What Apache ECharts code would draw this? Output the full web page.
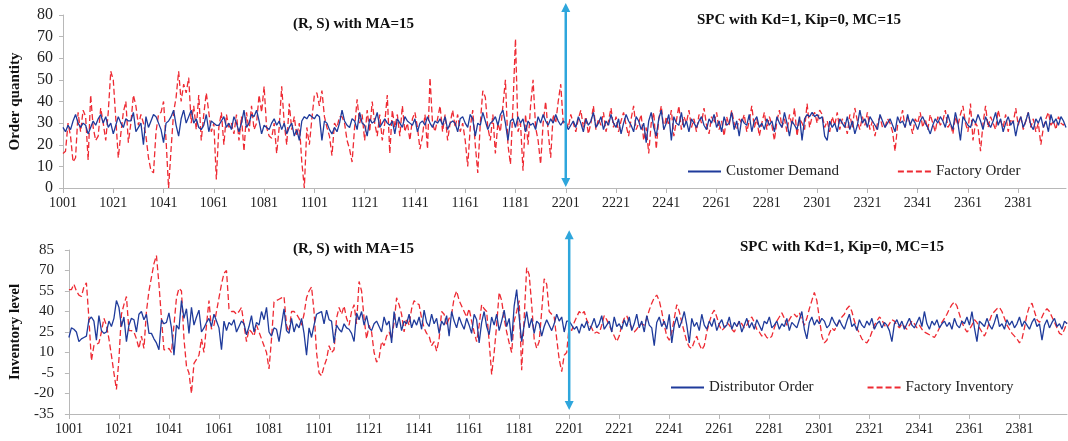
<!DOCTYPE html>
<html>
<head>
<meta charset="utf-8">
<script src="https://cdn.jsdelivr.net/npm/echarts@6/dist/echarts.min.js"></script>
<style>
  html, body { margin: 0; padding: 0; background: #fff; }
  #chart { width: 1068px; height: 441px; }
</style>
</head>
<body>
<div id="chart"></div>
<script>
// periods: 1001-1200 then 2201-2400
const periods = []
for (let p = 1001; p <= 1200; p++) periods.push(String(p))
for (let p = 2201; p <= 2400; p++) periods.push(String(p))

const orderTicks = [0, 10, 20, 30, 40, 50, 60, 70, 80]
const inventoryTicks = [-35, -20, -5, 10, 25, 40, 55, 70, 85]

// top panel - (R, S) part
const customerDemandA = [
  28, 26, 29, 27, 31, 34, 30, 28, 30, 29, 25, 28, 31, 29, 32, 34, 30, 33, 28, 30,
  25, 29, 33, 30, 28, 32, 31, 31, 35, 26, 28, 30, 20, 33, 28, 31, 34, 33, 30, 27,
  21, 30, 31, 33, 36, 29, 24, 32, 36, 30, 33, 36, 30, 32, 28, 27, 29, 34, 26, 31,
  30, 29, 29, 31, 33, 28, 30, 27, 33, 30, 26, 30, 36, 28, 30, 34, 33, 36, 31, 25,
  29, 28, 27, 30, 32, 29, 31, 27, 30, 25, 28, 30, 24, 27, 22, 31, 33, 32, 34, 33,
  32, 34, 33, 22, 31, 30, 27, 25, 28, 26, 30, 36, 31, 29, 28, 32, 31, 27, 35, 30,
  29, 24, 32, 30, 31, 35, 28, 30, 32, 30, 29, 31, 25, 32, 30, 28, 33, 31, 30, 29,
  32, 26, 30, 31, 29, 33, 30, 28, 31, 30, 32, 29, 33, 27, 30, 31, 30, 26, 32, 33,
  30, 28, 34, 32, 24, 30, 29, 35, 31, 27, 30, 31, 33, 29, 34, 36, 30, 22, 31, 32,
  28, 33, 30, 32, 26, 31, 29, 30, 27, 33, 30, 34, 31, 29, 32, 30, 34, 31, 29, 31
]
const factoryOrderA = [
  16, 17, 30, 24, 12, 14, 35, 26, 36, 33, 13, 43, 28, 22, 24, 37, 30, 22, 35, 54,
  50, 32, 14, 25, 35, 40, 21, 30, 43, 38, 29, 34, 30, 24, 14, 8, 7, 26, 34, 35,
  40, 22, 0, 18, 35, 42, 54, 40, 48, 44, 51, 30, 38, 27, 43, 22, 34, 44, 35, 26,
  30, 4, 28, 35, 20, 34, 28, 30, 25, 34, 22, 33, 17, 35, 26, 38, 27, 30, 43, 35,
  47, 28, 24, 23, 30, 16, 28, 47, 30, 20, 39, 27, 33, 24, 30, 12, 0, 28, 20, 32,
  43, 44, 38, 45, 33, 28, 24, 15, 30, 28, 33, 33, 30, 22, 18, 12, 28, 41, 30, 34,
  22, 36, 26, 40, 30, 24, 34, 22, 30, 43, 16, 36, 28, 34, 24, 38, 26, 30, 22, 32,
  35, 28, 18, 24, 34, 18, 51, 30, 26, 32, 38, 26, 34, 22, 30, 36, 28, 34, 26, 30,
  22, 10, 28, 36, 20, 7, 30, 45, 42, 28, 22, 34, 16, 30, 26, 38, 50, 20, 11, 38,
  69, 26, 30, 8, 34, 20, 38, 50, 28, 22, 11, 30, 40, 26, 14, 34, 30, 40, 48, 30
]
// top panel - SPC part
const customerDemandB = [
  30, 27, 29, 31, 28, 33, 30, 26, 32, 29, 31, 35, 28, 30, 33, 27, 31, 29, 34, 30,
  28, 32, 25, 30, 34, 31, 29, 26, 33, 31, 27, 30, 21, 31, 35, 28, 24, 32, 36, 27,
  30, 34, 22, 33, 30, 29, 35, 28, 31, 26, 32, 30, 28, 31, 33, 29, 27, 32, 30, 34,
  28, 31, 26, 33, 29, 30, 35, 27, 31, 24, 32, 30, 29, 34, 26, 31, 33, 28, 30, 27,
  32, 29, 31, 26, 33, 30, 28, 35, 30, 24, 31, 29, 27, 33, 22, 32, 34, 33, 35, 33,
  34, 32, 33, 24, 22, 31, 28, 30, 26, 32, 30, 28, 33, 27, 31, 25, 29, 36, 30, 32,
  28, 33, 31, 29, 27, 34, 31, 28, 30, 32, 29, 26, 33, 30, 31, 28, 34, 29, 32, 30,
  27, 31, 33, 30, 28, 25, 29, 32, 30, 33, 31, 28, 34, 30, 27, 35, 30, 22, 33, 31,
  29, 28, 32, 30, 34, 31, 27, 33, 30, 28, 31, 35, 29, 32, 26, 30, 33, 29, 31, 24,
  30, 33, 28, 31, 35, 29, 27, 32, 30, 33, 28, 31, 26, 34, 30, 32, 29, 33, 31, 28
]
const factoryOrderB = [
  31, 28, 34, 30, 26, 32, 36, 28, 33, 25, 30, 38, 27, 32, 29, 35, 26, 31, 37, 28,
  33, 26, 31, 35, 29, 24, 32, 38, 27, 30, 34, 22, 28, 16, 30, 35, 18, 32, 38, 27,
  33, 29, 36, 24, 31, 38, 27, 33, 30, 36, 28, 32, 26, 34, 30, 37, 29, 25, 33, 30,
  35, 27, 31, 24, 33, 29, 36, 30, 27, 32, 30, 34, 26, 31, 38, 28, 32, 24, 30, 35,
  27, 33, 29, 22, 31, 36, 28, 32, 26, 34, 29, 37, 24, 32, 30, 27, 39, 28, 33, 35,
  30, 36, 34, 28, 31, 26, 33, 29, 35, 27, 32, 30, 25, 34, 28, 37, 31, 27, 33, 29,
  35, 27, 31, 24, 30, 33, 28, 28, 32, 30, 26, 17, 29, 31, 36, 28, 33, 30, 25, 32,
  30, 35, 28, 32, 27, 34, 30, 26, 33, 29, 31, 36, 28, 30, 25, 33, 29, 34, 38, 30,
  26, 39, 22, 30, 28, 17, 30, 38, 28, 33, 30, 27, 36, 31, 28, 34, 26, 32, 30, 37,
  29, 33, 27, 31, 35, 28, 32, 26, 30, 20, 28, 32, 35, 29, 31, 27, 33, 30, 29, 31
]
// bottom panel - (R, S) part
const distributorOrderA = [
  21, 28, 27, 25, 18, 20, 21, 22, 34, 36, 33, 19, 37, 26, 24, 25, 33, 29, 35, 48,
  43, 29, 36, 18, 30, 35, 34, 25, 38, 40, 34, 38, 24, 24, 20, 17, 12, 34, 31, 32,
  39, 28, 8, 30, 27, 48, 35, 42, 24, 43, 30, 36, 41, 25, 28, 32, 35, 29, 38, 33,
  28, 12, 33, 26, 32, 30, 34, 25, 29, 33, 31, 23, 29, 37, 25, 32, 30, 40, 34, 43,
  25, 22, 28, 27, 18, 30, 42, 26, 24, 35, 25, 31, 28, 35, 24, 8, 28, 21, 30, 38,
  39, 40, 31, 41, 34, 33, 17, 30, 27, 25, 31, 28, 27, 24, 18, 39, 34, 40, 30, 37,
  28, 26, 31, 33, 29, 25, 36, 30, 33, 17, 40, 28, 36, 26, 33, 31, 38, 28, 34, 30,
  36, 27, 41, 32, 29, 38, 31, 35, 24, 33, 30, 37, 22, 40, 33, 28, 36, 31, 27, 35,
  30, 24, 38, 34, 17, 32, 40, 29, 23, 36, 30, 38, 26, 33, 41, 29, 35, 18, 44, 56,
  36, 18, 30, 40, 28, 35, 24, 33, 31, 22, 29, 34, 30, 26, 31, 38, 33, 36, 25, 33
]
const factoryInventoryA = [
  56, 56, 60, 55, 52, 51, 58, 61, 35, 4, 15, 16, 17, 25, 35, 30, 20, 8, -5, -17,
  5, 38, 45, 51, 26, 26, 25, 20, 13, 22, 13, 40, 55, 65, 75, 81, 60, 35, 12, 12,
  13, 10, 30, 50, 57, 55, 20, 0, -5, -20, 2, 5, 8, 20, 10, 30, 48, 27, 30, 40,
  50, 60, 68, 70, 42, 40, 40, 38, 40, 43, 30, 18, 27, 25, 22, 30, 25, 20, 15, 10,
  -2, 20, 47, 48, 49, 50, 51, 30, 25, 40, 40, 38, 35, 30, 38, 50, 55, 58, 40, 10,
  -5, -7, 0, 5, 15, 10, 12, 35, 43, 38, 44, 35, 30, 40, 45, 31, 62, 55, 35, 20,
  30, 25, 10, 3, 6, 18, 15, 22, 25, 20, 32, 50, 45, 38, 25, 35, 30, 42, 48, 46,
  45, 35, 28, 24, 22, 15, 18, 11, 20, 40, 38, 30, 35, 38, 50, 55, 48, 44, 40, 36,
  42, 33, 25, 18, 30, 45, 42, 40, 18, -6, 10, 30, 54, 48, 35, 25, 17, 10, 33, 40,
  48, -3, 35, 72, 67, 45, 20, 13, 18, 40, 64, 60, 40, 38, 36, 20, 5, -4, 8, 10
]
// bottom panel - SPC part
const distributorOrderB = [
  33, 30, 27, 29, 24, 31, 28, 33, 26, 30, 35, 28, 31, 37, 27, 30, 33, 25, 36, 29,
  31, 27, 34, 29, 36, 26, 31, 38, 28, 33, 25, 37, 30, 28, 15, 32, 36, 29, 33, 27,
  38, 17, 30, 36, 28, 33, 40, 30, 17, 35, 29, 32, 26, 38, 30, 27, 33, 29, 35, 26,
  31, 34, 28, 30, 36, 27, 32, 29, 33, 25, 30, 35, 28, 32, 27, 34, 30, 26, 33, 31,
  36, 28, 30, 33, 27, 31, 29, 35, 26, 32, 30, 28, 34, 40, 27, 20, 32, 36, 30, 34,
  31, 35, 33, 28, 30, 36, 32, 29, 34, 30, 27, 33, 38, 29, 31, 26, 34, 30, 28, 33,
  30, 35, 27, 31, 33, 28, 32, 30, 26, 18, 31, 34, 29, 33, 27, 31, 35, 30, 28, 32,
  36, 29, 40, 31, 27, 33, 30, 34, 28, 31, 33, 29, 32, 27, 35, 30, 28, 33, 31, 36,
  30, 40, 28, 18, 33, 31, 29, 35, 30, 27, 32, 38, 29, 31, 27, 34, 30, 33, 28, 31,
  36, 29, 33, 30, 27, 32, 35, 29, 31, 19, 30, 34, 28, 32, 35, 29, 31, 27, 33, 31
]
const factoryInventoryB = [
  30, 26, 32, 36, 40, 38, 40, 34, 30, 28, 24, 25, 24, 30, 37, 34, 30, 26, 22, 18,
  22, 30, 35, 37, 32, 28, 25, 27, 30, 31, 30, 35, 41, 46, 50, 52, 48, 40, 30, 22,
  19, 25, 35, 45, 40, 32, 25, 18, 14, 13, 18, 22, 16, 12, 15, 25, 32, 38, 41, 36,
  30, 26, 28, 32, 30, 27, 25, 29, 33, 31, 28, 30, 34, 36, 32, 27, 25, 22, 24, 21,
  20, 22, 28, 33, 36, 39, 35, 30, 34, 37, 38, 36, 39, 34, 30, 35, 42, 48, 54, 48,
  35, 22, 17, 19, 24, 28, 26, 30, 33, 36, 38, 42, 44, 40, 33, 28, 24, 20, 18, 17,
  20, 25, 30, 33, 36, 34, 30, 28, 31, 34, 33, 30, 28, 31, 29, 27, 30, 33, 31, 28,
  30, 27, 25, 24, 23, 22, 21, 24, 28, 32, 35, 38, 42, 45, 47, 44, 38, 32, 28, 25,
  27, 30, 34, 32, 28, 25, 22, 26, 33, 38, 40, 42, 43, 40, 35, 30, 27, 24, 22, 20,
  17, 20, 28, 38, 44, 46, 40, 34, 32, 36, 40, 42, 40, 36, 32, 28, 24, 23, 27, 32
]

const customerDemand = customerDemandA.concat(customerDemandB)
const factoryOrder = factoryOrderA.concat(factoryOrderB)
const distributorOrder = distributorOrderA.concat(distributorOrderB)
const factoryInventory = factoryInventoryA.concat(factoryInventoryB)

// switch point between the two policies, arrow ends in axis units
const switchPeriod = '2201'
const orderArrow = [85.5, 0.5]
const inventoryArrow = [99.5, -32]

const serif = 'Liberation Serif'
const blue = '#1f3b9b'
const red = '#ee2a33'
const arrowBlue = '#2ea6dc'
const axisGray = '#b8b8b8'

const xAxisBase = gridIndex => ({
  type: 'category',
  gridIndex,
  data: periods,
  boundaryGap: false,
  axisLine: { onZero: false, lineStyle: { color: axisGray, width: 1 } },
  axisTick: { interval: 19, length: 5, lineStyle: { color: axisGray } },
  axisLabel: {
    interval: 19, margin: 8,
    color: '#222', fontFamily: serif, fontSize: 14
  },
  splitLine: { show: false }
})

const yAxisBase = (gridIndex, min, max, ticks, name, gap, labelSize, labelMargin) => ({
  type: 'value',
  gridIndex,
  min,
  max,
  name,
  nameLocation: 'middle',
  nameGap: gap,
  nameTextStyle: { fontFamily: serif, fontSize: 15, fontWeight: 'bold', color: '#111' },
  axisLine: { show: true, onZero: false, lineStyle: { color: axisGray } },
  axisTick: { show: true, length: 4, customValues: ticks, lineStyle: { color: axisGray } },
  axisLabel: { customValues: ticks, color: '#222', fontFamily: serif, fontSize: labelSize, margin: labelMargin },
  splitLine: { show: false }
})

const titleStyle = { fontFamily: serif, fontSize: 15, fontWeight: 'bold', color: '#111' }
const legendText = { fontFamily: serif, fontSize: 15, color: '#222' }

const option = {
  animation: false,
  backgroundColor: '#fff',
  title: [
    { text: '(R, S) with MA=15', left: 293, top: 17, textStyle: titleStyle, padding: 0 },
    { text: 'SPC with Kd=1, Kip=0, MC=15', left: 697, top: 13, textStyle: titleStyle, padding: 0 },
    { text: '(R, S) with MA=15', left: 293, top: 242, textStyle: titleStyle, padding: 0 },
    { text: 'SPC with Kd=1, Kip=0, MC=15', left: 740, top: 240, textStyle: titleStyle, padding: 0 }
  ],
  legend: [
    {
      data: ['Customer Demand', 'Factory Order'],
      left: 687, top: 164, padding: 0, itemWidth: 33, itemHeight: 10, itemGap: 58,
      itemStyle: { opacity: 0 }, textStyle: legendText
    },
    {
      data: ['Distributor Order', 'Factory Inventory'],
      left: 670, top: 380, padding: 0, itemWidth: 33, itemHeight: 10, itemGap: 53,
      itemStyle: { opacity: 0 }, textStyle: legendText
    }
  ],
  grid: [
    { left: 63, right: 2, top: 15, height: 173 },
    { left: 68, right: 1, top: 250, height: 164 }
  ],
  xAxis: [xAxisBase(0), xAxisBase(1)],
  yAxis: [
    yAxisBase(0, 0, 80, orderTicks, 'Order quantity', 40, 16, 10),
    yAxisBase(1, -35, 85, inventoryTicks, 'Inventory level', 44, 15, 15)
  ],
  series: [
    {
      name: 'Customer Demand', type: 'line', xAxisIndex: 0, yAxisIndex: 0,
      data: customerDemand, showSymbol: false, symbol: 'none', z: 3,
      lineStyle: { color: blue, width: 1.3 }, itemStyle: { color: blue }
    },
    {
      name: 'Factory Order', type: 'line', xAxisIndex: 0, yAxisIndex: 0,
      data: factoryOrder, showSymbol: false, symbol: 'none', z: 2,
      lineStyle: { color: red, width: 1.3, type: [6, 3] }, itemStyle: { color: red }
    },
    {
      name: 'Distributor Order', type: 'line', xAxisIndex: 1, yAxisIndex: 1,
      data: distributorOrder, showSymbol: false, symbol: 'none', z: 3,
      lineStyle: { color: blue, width: 1.3 }, itemStyle: { color: blue }
    },
    {
      name: 'Factory Inventory', type: 'line', xAxisIndex: 1, yAxisIndex: 1,
      data: factoryInventory, showSymbol: false, symbol: 'none', z: 2,
      lineStyle: { color: red, width: 1.3, type: [6, 3] }, itemStyle: { color: red }
    }
  ]
}

const chart = echarts.init(document.getElementById('chart'), null, { renderer: 'canvas' })
chart.setOption(option)

// double-headed arrow at the policy switch, placed through the axes
const arrow = (axisIdx, ends) => {
  const x = chart.convertToPixel({ xAxisIndex: axisIdx }, switchPeriod)
  const y1 = chart.convertToPixel({ yAxisIndex: axisIdx }, ends[0])
  const y2 = chart.convertToPixel({ yAxisIndex: axisIdx }, ends[1])
  const head = 9
  const half = 4.5
  return [
    {
      type: 'line', z: 10, silent: true,
      shape: { x1: x, y1: y1 + head - 1, x2: x, y2: y2 - head + 1 },
      style: { stroke: arrowBlue, lineWidth: 2.5 }
    },
    {
      type: 'polygon', z: 10, silent: true,
      shape: { points: [[x, y1], [x - half, y1 + head], [x + half, y1 + head]] },
      style: { fill: arrowBlue }
    },
    {
      type: 'polygon', z: 10, silent: true,
      shape: { points: [[x, y2], [x - half, y2 - head], [x + half, y2 - head]] },
      style: { fill: arrowBlue }
    }
  ]
}

chart.setOption({ graphic: arrow(0, orderArrow).concat(arrow(1, inventoryArrow)) })
</script>
</body>
</html>
